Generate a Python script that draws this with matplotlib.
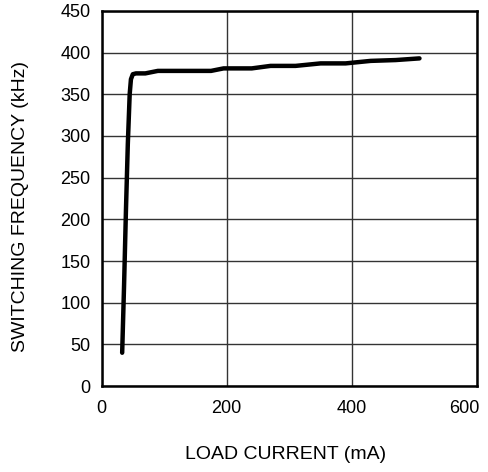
import matplotlib.pyplot as plt
from matplotlib.transforms import ScaledTranslation

plt.rcParams['font.family'] = ['Liberation Sans', 'DejaVu Sans']

# load current (mA) and switching frequency (kHz)
load_ma = [33, 36, 39, 42, 45, 47, 50, 55, 70, 90, 175, 195, 240, 270, 310, 350, 390, 430, 470, 508]
freq_khz = [40, 120, 210, 290, 350, 368, 374, 375, 375, 378, 378, 381, 381, 384, 384, 387, 387, 390, 391, 393]

x_ticks = [0, 200, 400, 600]
y_ticks = [0, 50, 100, 150, 200, 250, 300, 350, 400, 450]

fig = plt.figure(figsize=(4.89, 4.72), dpi=100)
ax = fig.add_axes([0.2076, 0.182, 0.768, 0.795])

ax.plot(load_ma, freq_khz, color='black', linewidth=3.2, solid_capstyle='round', solid_joinstyle='round', zorder=3)

ax.set_xlim(0, 600)
ax.set_ylim(0, 450)
ax.set_xticks(x_ticks)
ax.set_yticks(y_ticks)
ax.grid(True, color='#333333', linewidth=1.0)
ax.tick_params(length=0, labelsize=13)
ax.tick_params(axis='x', pad=10)
ax.tick_params(axis='y', pad=8)
for s in ax.spines.values():
  s.set_linewidth(1.8)

# the last x label sits a bit to the left so it stays inside the picture
last = ax.get_xticklabels()[-1]
last.set_transform(last.get_transform() + ScaledTranslation(-9 / 72, 0, fig.dpi_scale_trans))

ax.set_xlabel('LOAD CURRENT (mA)', fontsize=14)
ax.xaxis.set_label_coords(0.491, -0.181)
ax.xaxis.label.set_va('center')
ax.set_ylabel('SWITCHING FREQUENCY (kHz)', fontsize=14)
ax.yaxis.set_label_coords(-0.216, 0.478)
ax.yaxis.label.set_va('center')

fig.savefig('out.png', dpi=100)
